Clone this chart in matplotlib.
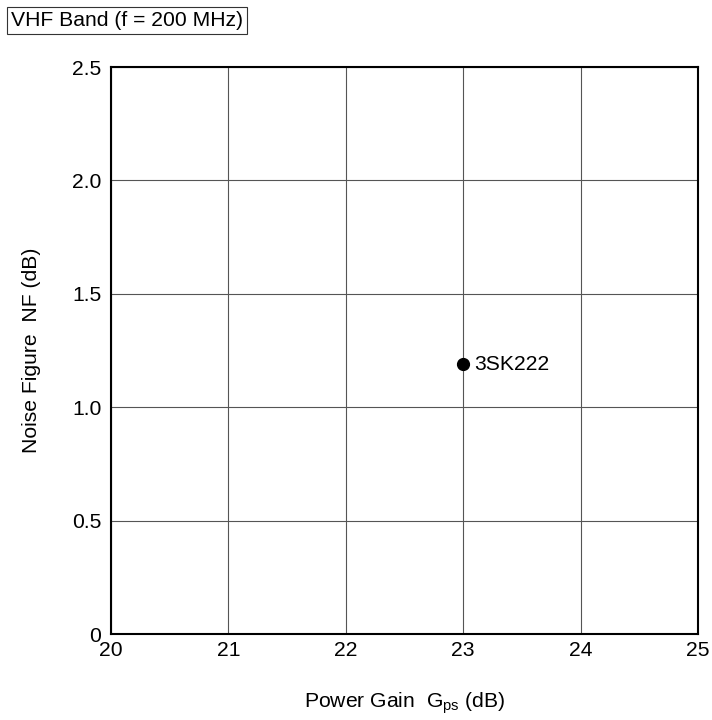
import matplotlib

matplotlib.use("Agg")
import matplotlib.pyplot as plt

plt.rcParams["font.family"] = ["Liberation Sans", "DejaVu Sans"]
plt.rcParams["mathtext.fontset"] = "custom"
plt.rcParams["mathtext.rm"] = "Liberation Sans"

# data
devices = ["3SK222"]
gain_db = [23.0]
nf_db = [1.19]

x_ticks = [20, 21, 22, 23, 24, 25]
y_ticks = [0, 0.5, 1.0, 1.5, 2.0, 2.5]
y_tick_labels = ["0", "0.5", "1.0", "1.5", "2.0", "2.5"]

FS = 15.2

fig = plt.figure(figsize=(7.12, 7.2), dpi=100)
ax = fig.add_axes([0.1559, 0.1194, 0.8244, 0.7875])

ax.plot(gain_db, nf_db, "o", color="black", markersize=8.5, zorder=3)
for name, x, y in zip(devices, gain_db, nf_db):
    ax.text(x + 0.09, y, name, fontsize=FS, va="center", ha="left")

ax.set_xlim(20, 25)
ax.set_ylim(0, 2.5)
ax.set_xticks(x_ticks)
ax.set_yticks(y_ticks)
ax.set_yticklabels(y_tick_labels)
ax.tick_params(length=0, labelsize=FS)
ax.tick_params(axis="x", pad=5)
ax.tick_params(axis="y", pad=7)
ax.grid(True, color="#555555", linewidth=0.8)
ax.set_axisbelow(True)
for s in ax.spines.values():
    s.set_linewidth(1.5)
    s.set_color("black")

ax.set_xlabel(r"Power Gain  G$_{\mathregular{ps}}$ (dB)", fontsize=FS, labelpad=22)
ax.set_ylabel("Noise Figure  NF (dB)", fontsize=FS, labelpad=22)

fig.text(0.0155, 0.9715, "VHF Band (f = 200 MHz)", fontsize=FS, ha="left", va="center",
         bbox=dict(boxstyle="square,pad=0.2", facecolor="white", edgecolor="#333333", linewidth=0.8))

fig.savefig("out.png", dpi=100)
